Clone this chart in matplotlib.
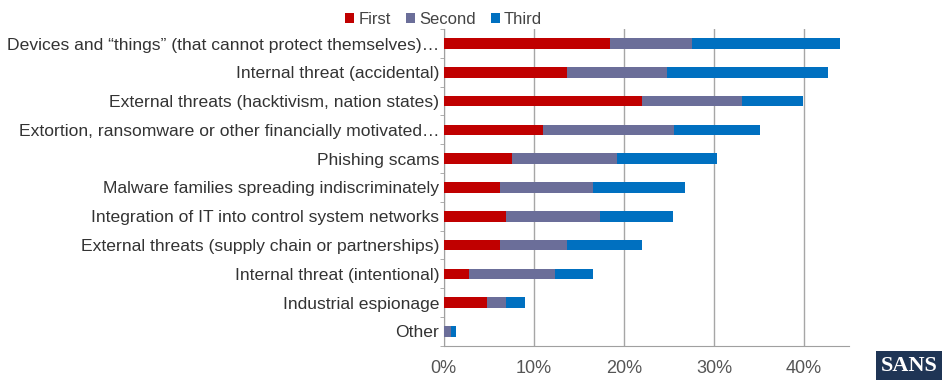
import matplotlib
matplotlib.use("Agg")
import matplotlib.pyplot as plt
import numpy as np

plt.rcParams['font.family'] = ['Liberation Sans', 'DejaVu Sans']

categories = [
    "Devices and \u201cthings\u201d (that cannot protect themselves)\u2026",
    "Internal threat (accidental)",
    "External threats (hacktivism, nation states)",
    "Extortion, ransomware or other financially motivated\u2026",
    "Phishing scams",
    "Malware families spreading indiscriminately",
    "Integration of IT into control system networks",
    "External threats (supply chain or partnerships)",
    "Internal threat (intentional)",
    "Industrial espionage",
    "Other",
]
first = [18.5, 13.7, 22.0, 11.0, 7.6, 6.2, 6.9, 6.2, 2.8, 4.8, 0.0]
second = [9.1, 11.1, 11.1, 14.6, 11.6, 10.4, 10.4, 7.5, 9.6, 2.1, 0.8]
third = [16.4, 17.9, 6.8, 9.5, 11.1, 10.2, 8.2, 8.3, 4.2, 2.1, 0.6]
series_names = ["First", "Second", "Third"]
colors = ["#C00000", "#6B6E99", "#0070C0"]
xticks = [0, 10, 20, 30, 40]

fig = plt.figure(figsize=(9.52, 3.83), dpi=100)
ax = fig.add_axes([0.466, 0.097, 0.426, 0.827])

y = np.arange(len(categories))
left = np.zeros(len(categories))
for vals, name, c in zip([first, second, third], series_names, colors):
    ax.barh(y, vals, left=left, height=0.37, color=c, label=name, zorder=3,
            edgecolor='none')
    left = left + np.array(vals)

ax.set_ylim(len(categories) - 0.5, -0.5)
ax.set_xlim(0, 45)
ax.set_yticks(y)
ax.set_yticklabels(categories, fontsize=12.6, color="#333333")
ax.set_yticks(np.arange(len(categories) + 1) - 0.5, minor=True)
ax.tick_params(axis='y', which='major', length=0, pad=3)
ax.tick_params(axis='y', which='minor', length=3, color="#A0A0A0")
ax.set_xticks(xticks)
ax.set_xticklabels([f"{t}%" for t in xticks], fontsize=13, color="#555555")
ax.tick_params(axis='x', length=0, pad=10)
ax.grid(axis='x', color="#A6A6A6", linewidth=1, zorder=0)
for s in ['top', 'right']:
    ax.spines[s].set_visible(False)
ax.spines['left'].set_color("#A0A0A0")
ax.spines['bottom'].set_color("#A0A0A0")

leg = fig.legend(loc='upper center', bbox_to_anchor=(0.466, 1.008), ncol=3,
                 frameon=False, fontsize=12, handlelength=0.55, handleheight=0.55,
                 handletextpad=0.25, columnspacing=0.9, labelcolor="#444444")

fig.text(0.955, 0.045, "SANS", fontsize=16, color="white", fontweight='bold',
         family='Liberation Serif', ha='center', va='center',
         bbox=dict(boxstyle='square,pad=0.2', facecolor='#1F3555', edgecolor='none'))

fig.savefig("out.png", dpi=100)
